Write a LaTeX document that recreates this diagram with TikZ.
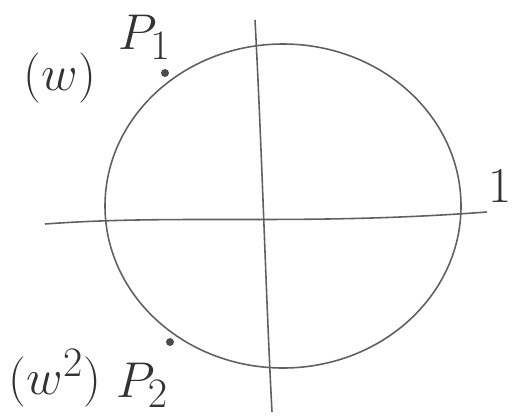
\documentclass[tikz,border=0pt]{standalone}
\usepackage{amsmath, amsfonts, amssymb}
\usetikzlibrary{positioning}
\usetikzlibrary{calc}

\begin{document}
\begin{tikzpicture}[x=0.02cm, y=-0.02cm, line width=0.9pt, stroke/.style={draw=gray!75!black}, pt/.style={circle, fill=gray!60!black, inner sep=1.6pt}, lab/.style={font=\Huge, scale=1.15, text=gray!40!black, inner sep=1pt}]
        % Fix the frame of the picture
        \useasboundingbox (0,0) rectangle (519,419);

        % Define the centre and the radii of the circle
        \def\rx{178}
        \def\ry{162}
        \coordinate (o) at (283,206);

        % Draw the circle
        \draw[stroke] (o) ellipse [x radius=\rx, y radius=\ry];

        % Draw the axes
        \coordinate (xl) at (45,224);
        \coordinate (xr) at (487,212);
        \coordinate (yt) at (255,20);
        \coordinate (yb) at (272,412);
        \draw[stroke] (xl) .. controls (180,214) and (300,226) .. (xr);
        \draw[stroke] (yt) .. controls (262,150) and (266,300) .. (yb);

        % Draw the two points on the circle
        \node[pt] (p1) at (165,73) {};
        \node[pt] (p2) at (170,342) {};

        % Labels
        \node[lab] (w1) at (60,78) {$(w)$};
        \node[lab, anchor=south west] (n1) at (116,62) {$P_1$};
        \node[lab] (w2) at (55,378) {$(w^2)$};
        \node[lab] (n2) at (142,385) {$P_2$};
        \node[lab] (one) at (500,186) {$1$};
      \end{tikzpicture}
\end{document}
